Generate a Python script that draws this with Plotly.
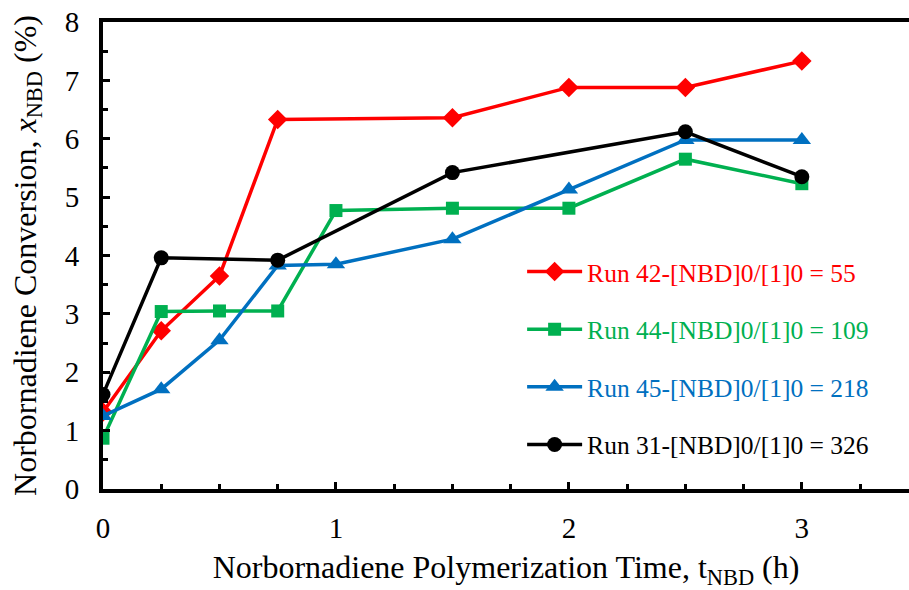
import plotly.graph_objects as go

# Sampling times (h)
t_run42 = [0, 0.25, 0.5, 0.75, 1.5, 2, 2.5, 3]
x_run42 = [1.32, 2.71, 3.65, 6.33, 6.36, 6.88, 6.88, 7.33]

t_run44 = [0, 0.25, 0.5, 0.75, 1, 1.5, 2, 2.5, 3]
x_run44 = [0.87, 3.04, 3.05, 3.05, 4.77, 4.81, 4.81, 5.65, 5.23]

t_run45 = [0, 0.25, 0.5, 0.75, 1, 1.5, 2, 2.5, 3]
x_run45 = [1.25, 1.71, 2.55, 3.83, 3.85, 4.28, 5.13, 5.98, 5.98]

t_run31 = [0, 0.25, 0.75, 1.5, 2.5, 3]
x_run31 = [1.62, 3.96, 3.92, 5.42, 6.12, 5.35]

series = [
    ("Run 42-[NBD]0/[1]0 = 55", t_run42, x_run42, "#FF0000", "diamond", 15),
    ("Run 44-[NBD]0/[1]0 = 109", t_run44, x_run44, "#00B050", "square", 13),
    ("Run 45-[NBD]0/[1]0 = 218", t_run45, x_run45, "#0070C0", "triangle-up", 16),
    ("Run 31-[NBD]0/[1]0 = 326", t_run31, x_run31, "#000000", "circle", 15),
]

FONT = "'Times New Roman', 'Liberation Serif', 'DejaVu Serif', serif"

fig = go.Figure()
for i, (name, t, x, color, sym, size) in enumerate(series):
    fig.add_trace(go.Scatter(
        x=t, y=x, mode="lines+markers",
        name=f"<span style='color:{color}'>{name}</span>",
        legendgroup=f"g{i}",
        line=dict(color=color, width=3.5),
        marker=dict(symbol=sym, size=size, color=color),
    ))

fig.update_layout(
    width=909, height=590,
    margin=dict(l=103, r=0, t=22, b=101),
    paper_bgcolor="white", plot_bgcolor="white",
    font=dict(family=FONT, size=26, color="black"),
    showlegend=True,
    legend=dict(
        x=0.52, y=0.515, xanchor="left", yanchor="top",
        bgcolor="rgba(0,0,0,0)",
        font=dict(family=FONT, size=25.5),
        tracegroupgap=21.5,
        itemwidth=55,
    ),
    xaxis=dict(
        range=[0, 3.46], showgrid=False, zeroline=False,
        showline=True, linecolor="black", linewidth=4, mirror=True,
        ticks="inside", tickcolor="black", tickwidth=3, ticklen=7,
        tick0=0, dtick=1, ticklabelstandoff=10,
        minor=dict(ticks="inside", dtick=0.25, ticklen=5, tickwidth=3, tickcolor="black"),
        tickfont=dict(family=FONT, size=29),
        title=dict(text="Norbornadiene Polymerization Time, t<sub>NBD</sub> (h)",
                   font=dict(family=FONT, size=32), standoff=20),
    ),
    yaxis=dict(
        range=[0, 8], showgrid=False, zeroline=False,
        showline=True, linecolor="black", linewidth=4,
        ticks="inside", tickcolor="black", tickwidth=3, ticklen=7,
        tick0=0, dtick=1, ticklabelstandoff=14,
        minor=dict(ticks="inside", dtick=0.5, ticklen=5, tickwidth=3, tickcolor="black"),
        tickfont=dict(family=FONT, size=29),
        title=dict(text="Norbornadiene Conversion, <i>x</i><sub>NBD</sub> (%)",
                   font=dict(family=FONT, size=32), standoff=20),
    ),
)

fig.write_html("out.html")
